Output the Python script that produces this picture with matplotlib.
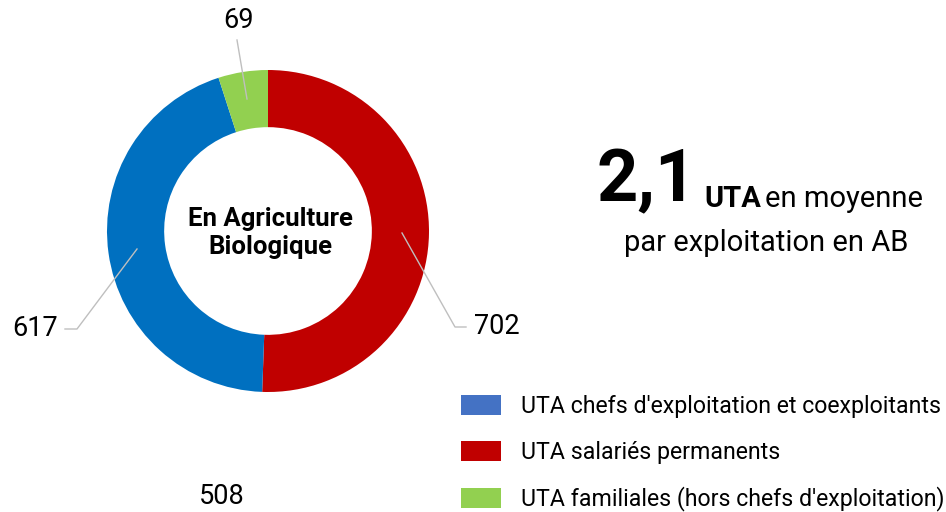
import matplotlib.pyplot as plt
from matplotlib.patches import Patch

# data
categories = ["UTA salariés permanents",
              "UTA chefs d'exploitation et coexploitants",
              "UTA familiales (hors chefs d'exploitation)"]
values = [702, 617, 69]
slice_colors = ["#C00000", "#0070C0", "#92D050"]

legend_labels = ["UTA chefs d'exploitation et coexploitants",
                 "UTA salariés permanents",
                 "UTA familiales (hors chefs d'exploitation)"]
legend_colors = ["#4472C4", "#C00000", "#92D050"]

stray_label = "508"
avg_uta = "2,1"

plt.rcParams['font.family'] = ['Roboto', 'DejaVu Sans']

W, H = 946, 512
fig = plt.figure(figsize=(W / 100, H / 100), dpi=100)
ax = fig.add_axes([0, 0, 1, 1])

def py(y):
    # pixel row (top down) -> data y
    return H - y

cx, cy, r = 268, py(231), 161
ax.pie(values, colors=slice_colors, startangle=90, counterclock=False,
       center=(cx, cy), radius=r, frame=True,
       wedgeprops=dict(width=r * 0.355, linewidth=0))
ax.set_xlim(0, W)
ax.set_ylim(0, H)
ax.set_aspect('equal')
ax.axis('off')

# centre text
ax.text(cx + 2, py(233), "En Agriculture\nBiologique", ha='center', va='center',
        fontsize=18.5, fontweight='bold', linespacing=1.25)

# value labels with leader lines
lc = "#BFBFBF"
num_fs = 19.5
ax.plot([247, 237], [py(99), py(40)], color=lc, lw=1)
ax.text(238, py(20), str(values[2]), ha='center', va='center', fontsize=num_fs)

ax.plot([137, 77, 65], [py(249), py(329), py(329)], color=lc, lw=1)
ax.text(58, py(329), str(values[1]), ha='right', va='center', fontsize=num_fs)

ax.plot([402, 455, 466], [py(233), py(327), py(327)], color=lc, lw=1)
ax.text(474, py(327), str(values[0]), ha='left', va='center', fontsize=num_fs)

ax.text(222, py(497), stray_label, ha='center', va='center', fontsize=num_fs)

# headline figure
ax.text(697, py(182), avg_uta, ha='right', va='center', fontsize=52,
        fontweight='bold')
ax.text(704, py(207), "UTA", ha='left', va='baseline', fontsize=21,
        fontweight='bold')
ax.text(765, py(207), "en moyenne", ha='left', va='baseline', fontsize=21)
ax.text(766, py(243), "par exploitation en AB", ha='center', va='center',
        fontsize=21)

# legend
handles = [Patch(facecolor=c, edgecolor='none') for c in legend_colors]
ax.legend(handles, legend_labels, loc='upper left',
          bbox_to_anchor=(452 / W, 1 - 386 / H), bbox_transform=fig.transFigure,
          frameon=False, fontsize=16.7, handlelength=1.72, handleheight=0.95,
          handletextpad=0.86, labelspacing=0.97, borderaxespad=0)

fig.savefig("out.png", dpi=100)
